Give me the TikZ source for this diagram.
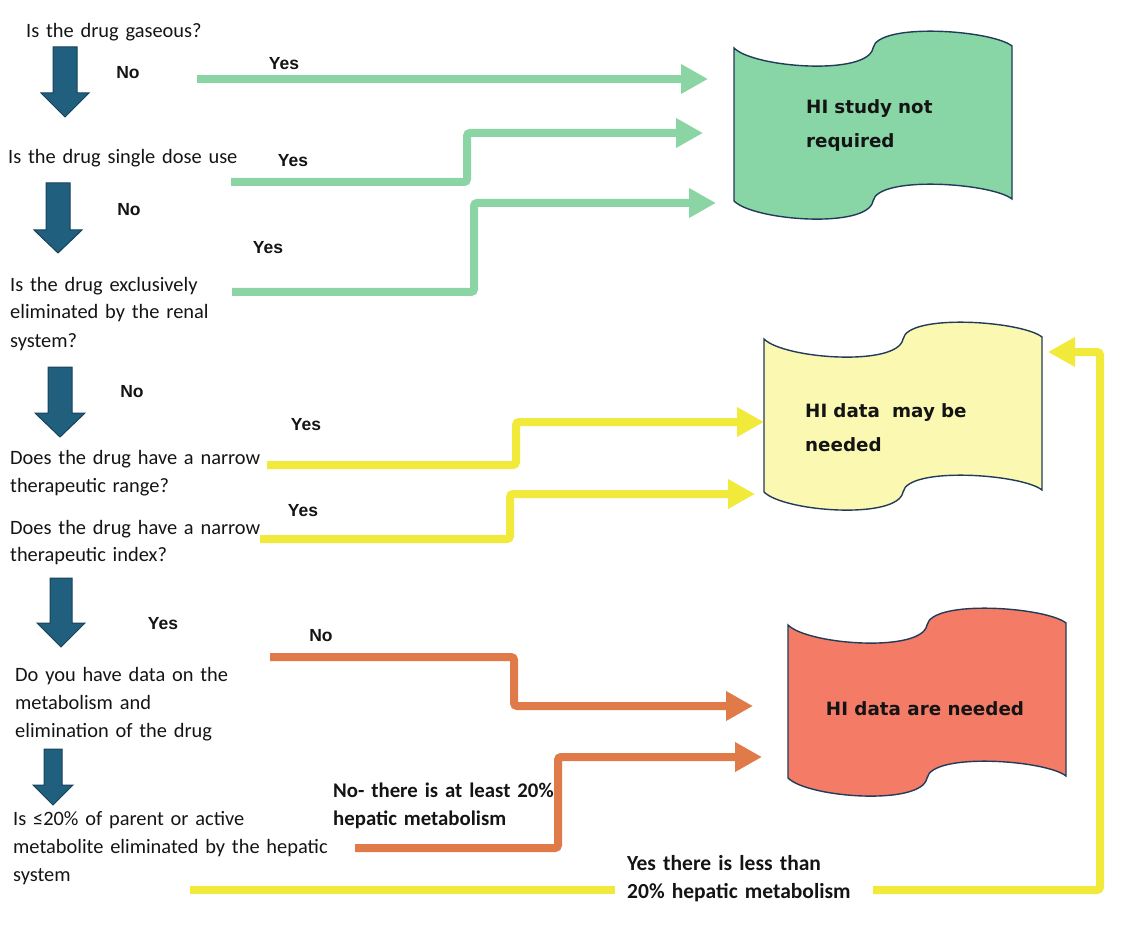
\documentclass[tikz,border=0pt]{standalone}
\usepackage{fontspec}
\setmainfont{Carlito}
\newfontfamily\lblfont{Liberation Sans}
\newfontfamily\boxfont{DejaVu Sans}
\usetikzlibrary{arrows.meta}
\definecolor{gline}{HTML}{8AD5A3}
\definecolor{yline}{HTML}{F2EA3A}
\definecolor{oline}{HTML}{E07A48}
\definecolor{gbox}{HTML}{88D5A5}
\definecolor{ybox}{HTML}{FBF8B2}
\definecolor{rbox}{HTML}{F47B66}
\definecolor{darr}{HTML}{205F7E}
\definecolor{darredge}{HTML}{17425A}
\definecolor{tapeedge}{HTML}{213B58}
\definecolor{ink}{HTML}{141414}
\tikzset{
  question/.style={anchor=base west, inner sep=0pt, text width=400pt, align=left,
    font=\fontsize{20.4}{28}\selectfont, text=ink},
  yn/.style={inner sep=0pt, font=\lblfont\bfseries\fontsize{17.5}{20}\selectfont, text=ink},
  boxtxt/.style={inner sep=0pt, font=\boxfont\bfseries\fontsize{18.3}{34}\selectfont, text=ink},
  boldlbl/.style={anchor=base west, inner sep=0pt, text width=300pt, align=left,
    font=\bfseries\fontsize{21.5}{28.5}\selectfont, text=ink},
  conn/.style={line width=8pt, rounded corners=3pt, -{Triangle[length=27pt,width=28pt]}},
  gconn/.style={conn, draw=gline},
  yconn/.style={conn, draw=yline},
  oconn/.style={conn, draw=oline},
  darrowstyle/.style={fill=darr, draw=darredge, line width=1pt, line join=miter},
  tapeline/.style={draw=tapeedge, line width=1.4pt},
  pics/downarrow/.style n args={4}{code={
    \draw[darrowstyle] (-#3,0) -- (#3,0) -- (#3,#1-#2) -- (#4,#1-#2) -- (0,#1)
      -- (-#4,#1-#2) -- (-#3,#1-#2) -- cycle;}},
  pics/tape/.style={code={
    \draw[tapeline, fill=#1] (0,0) .. controls (20,20) and (134,28) .. (139,0)
      .. controls (144,-26) and (258,-18) .. (278,-2) -- (278,151)
      .. controls (258,135) and (144,127) .. (139,153)
      .. controls (134,181) and (20,173) .. (0,153) -- cycle;}}
}
\begin{document}
\begin{tikzpicture}[x=1pt, y=-1pt]
\useasboundingbox (0,0) rectangle (1144,928);

% result boxes
\pic at (734,48) {tape=gbox};
\pic at (764,339) {tape=ybox};
\pic at (788,625) {tape=rbox};
\node[boxtxt, anchor=base west, text width=220pt, align=left] (gtxt) at (806,114) {HI study not\\required};
\node[boxtxt, anchor=base west, text width=220pt, align=left] (ytxt) at (805,417) {HI data\ \ may be\\needed};
\node[boxtxt] (rtxt) at (925,709) {HI data are needed};

% questions
\node[question] (q1) at (26,38) {Is the drug gaseous?};
\node[question] (q2) at (8,164) {Is the drug single dose use};
\node[question] (q3) at (10,291) {Is the drug exclusively\\eliminated by the renal\\system?};
\node[question] (q4) at (10,464) {Does the drug have a narrow\\therapeutic range?};
\node[question, font=\fontsize{20.4}{27}\selectfont] (q5) at (10,534) {Does the drug have a narrow\\therapeutic index?};
\node[question] (q6) at (15,681) {Do you have data on the\\metabolism and\\elimination of the drug};
\node[question] (q7) at (13,825) {Is ≤20\% of parent or active\\metabolite eliminated by the hepatic\\system};

% down arrows
\pic at (65,47) {downarrow={70}{24}{12}{24}};
\pic at (58,183) {downarrow={70}{23}{12}{24}};
\pic at (60,367) {downarrow={70}{24}{12}{25}};
\pic at (61,578) {downarrow={69}{24}{11}{24}};
\pic at (53,749) {downarrow={56}{20}{9}{20}};

% yes / no labels
\node[yn] (n1) at (128,73) {No};
\node[yn] (y1) at (284,64) {Yes};
\node[yn] (y2) at (293,161) {Yes};
\node[yn] (n2) at (129,210) {No};
\node[yn] (y3) at (268,248) {Yes};
\node[yn] (n3) at (132,392) {No};
\node[yn] (y4) at (306,425) {Yes};
\node[yn] (y5) at (303,511) {Yes};
\node[yn] (y6) at (163,624) {Yes};
\node[yn] (n4) at (321,636) {No};

\node[boldlbl, font=\bfseries\fontsize{20.8}{28}\selectfont] (nolbl) at (333,797) {No- there is at least 20\%\\hepatic metabolism};
\node[boldlbl] (yeslbl) at (627,870) {Yes there is less than\\20\% hepatic metabolism};

% connector coordinates
\coordinate (g1s) at (197,79);  \coordinate (g1e) at (708,79);
\coordinate (g2s) at (231,182); \coordinate (g2k) at (467,133); \coordinate (g2e) at (703,133);
\coordinate (g3s) at (232,292); \coordinate (g3k) at (474,203); \coordinate (g3e) at (716,203);
\coordinate (y1s) at (267,465); \coordinate (y1k) at (516,422); \coordinate (y1e) at (764,422);
\coordinate (y2s) at (260,539); \coordinate (y2k) at (510,494); \coordinate (y2e) at (755,494);
\coordinate (o1s) at (270,657); \coordinate (o1k) at (514,706); \coordinate (o1e) at (753,706);
\coordinate (o2s) at (355,848); \coordinate (o2k) at (558,757); \coordinate (o2e) at (762,757);
\coordinate (y3s) at (190,890); \coordinate (y3a) at (615,890);
\coordinate (y3b) at (873,890); \coordinate (y3k) at (1100,352); \coordinate (y3e) at (1048,352);

\draw[gconn] (g1s) -- (g1e);
\draw[gconn] (g2s) -| (g2k) -- (g2e);
\draw[gconn] (g3s) -| (g3k) -- (g3e);
\draw[yconn] (y1s) -| (y1k) -- (y1e);
\draw[yconn] (y2s) -| (y2k) -- (y2e);
\draw[oconn] (o1s) -| (o1k) -- (o1e);
\draw[oconn] (o2s) -| (o2k) -- (o2e);
\draw[line width=8pt, draw=yline] (y3s) -- (y3a);
\draw[yconn] (y3b) -| (y3k) -- (y3e);
\end{tikzpicture}
\end{document}
